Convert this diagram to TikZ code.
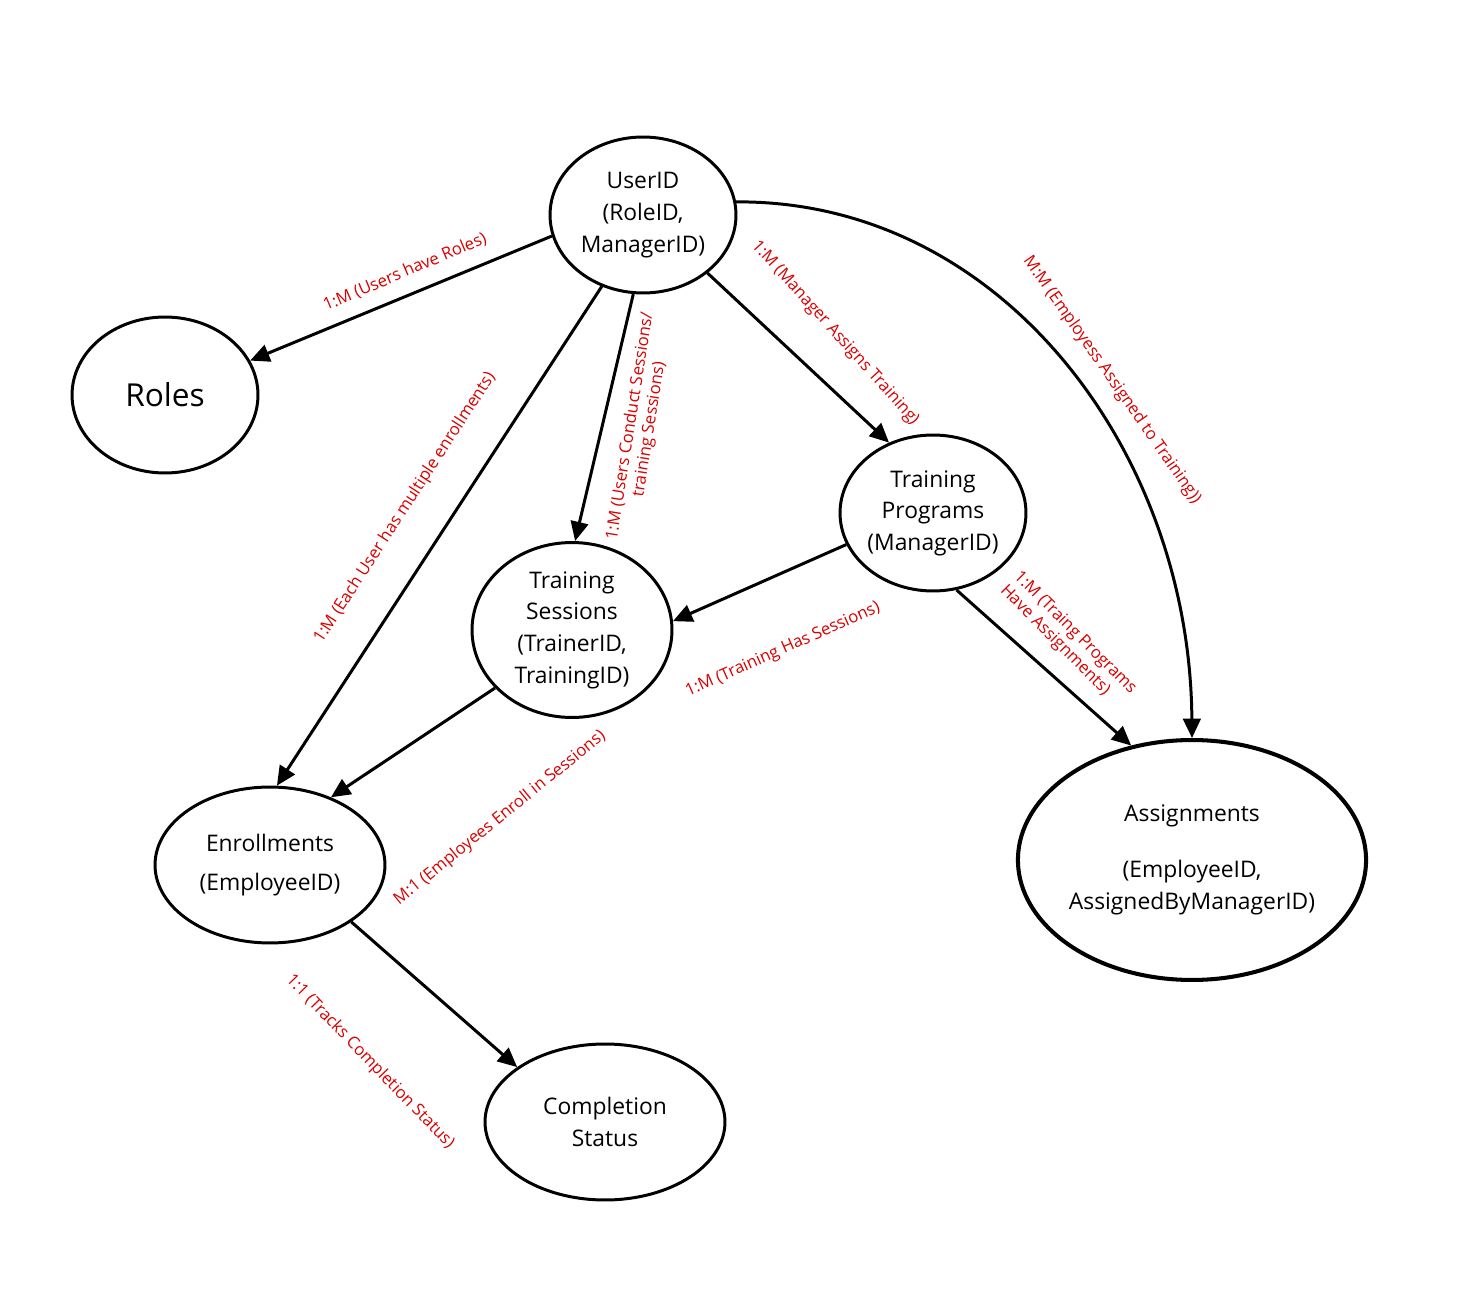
\documentclass[tikz,border=0pt]{standalone}
\usepackage{fontspec}
\setmainfont{Open Sans}
\usetikzlibrary{shapes.geometric,arrows.meta}
\begin{document}
\begin{tikzpicture}[x=0.02cm,y=-0.02cm,
  ent/.style={draw,ellipse,line width=1.7pt,inner sep=0pt,align=center,font=\fontsize{13}{18}\selectfont},
  rel/.style={line width=1.7pt,-{Triangle[length=11pt,width=10pt]}},
  lab/.style={text=red!85!black,font=\fontsize{9.5}{11}\selectfont,align=center,inner sep=1pt}]
\useasboundingbox (0,0) rectangle (1474,1300);
\node[ent,minimum width=3.72cm,minimum height=3.12cm] (u) at (643,215) {UserID\\(RoleID,\\ManagerID)};
\node[ent,minimum width=3.72cm,minimum height=3.12cm,font=\fontsize{18}{22}\selectfont] (r) at (165,395) {Roles};
\node[ent,minimum width=3.72cm,minimum height=3.12cm] (p) at (933,513) {Training\\Programs\\(ManagerID)};
\node[ent,minimum width=4.0cm,minimum height=3.5cm] (s) at (572,630) {Training\\Sessions\\(TrainerID,\\TrainingID)};
\node[ent,minimum width=4.6cm,minimum height=3.12cm] (e) at (270,865) {Enrollments\\[4pt](EmployeeID)};
\node[ent,minimum width=6.3cm,minimum height=4.8cm,line width=2.3pt] (a) at (1192,860) {Assignments\\[14pt](EmployeeID,\\AssignedByManagerID)};
\node[ent,minimum width=4.8cm,minimum height=3.12cm] (c) at (605,1122) {Completion\\Status};
\draw[rel] (u.193) -- (r.22);
\draw[rel] (u.240) -- (e.85);
\draw[rel] (u.263) -- (s.88);
\draw[rel] (u.318) -- (p.122);
\draw[rel] (u.8) .. controls (1000,200) and (1190,450) .. (a.90);
\draw[rel] (p.200) -- (s.5);
\draw[rel] (p.287) -- (a.118);
\draw[rel] (s.217) -- (e.48);
\draw[rel] (e.325) -- (c.148);
\node[lab,rotate=23] (l1) at (405,272) {1:M (Users have Roles)};
\node[lab,rotate=57] (l2) at (405,508) {1:M (Each User has multiple enrollments)};
\node[lab,rotate=81] (l3) at (640,428) {1:M (Users Conduct Sessions/\\training Sessions)};
\node[lab,rotate=-48] (l4) at (835,333) {1:M (Manager Assigns Training)};
\node[lab,rotate=-55] (l5) at (1112,380) {M:M (Employess Assigned to Training))};
\node[lab,rotate=-45,align=left] (l6) at (1068,640) {1:M (Traing Programs\\Have Assignments)};
\node[lab,rotate=24] (l7) at (783,650) {1:M (Training Has Sessions)};
\node[lab,rotate=39] (l8) at (500,818) {M:1 (Employees Enroll in Sessions)};
\node[lab,rotate=-46] (l9) at (370,1062) {1:1 (Tracks Completion Status)};
\end{tikzpicture}
\end{document}
